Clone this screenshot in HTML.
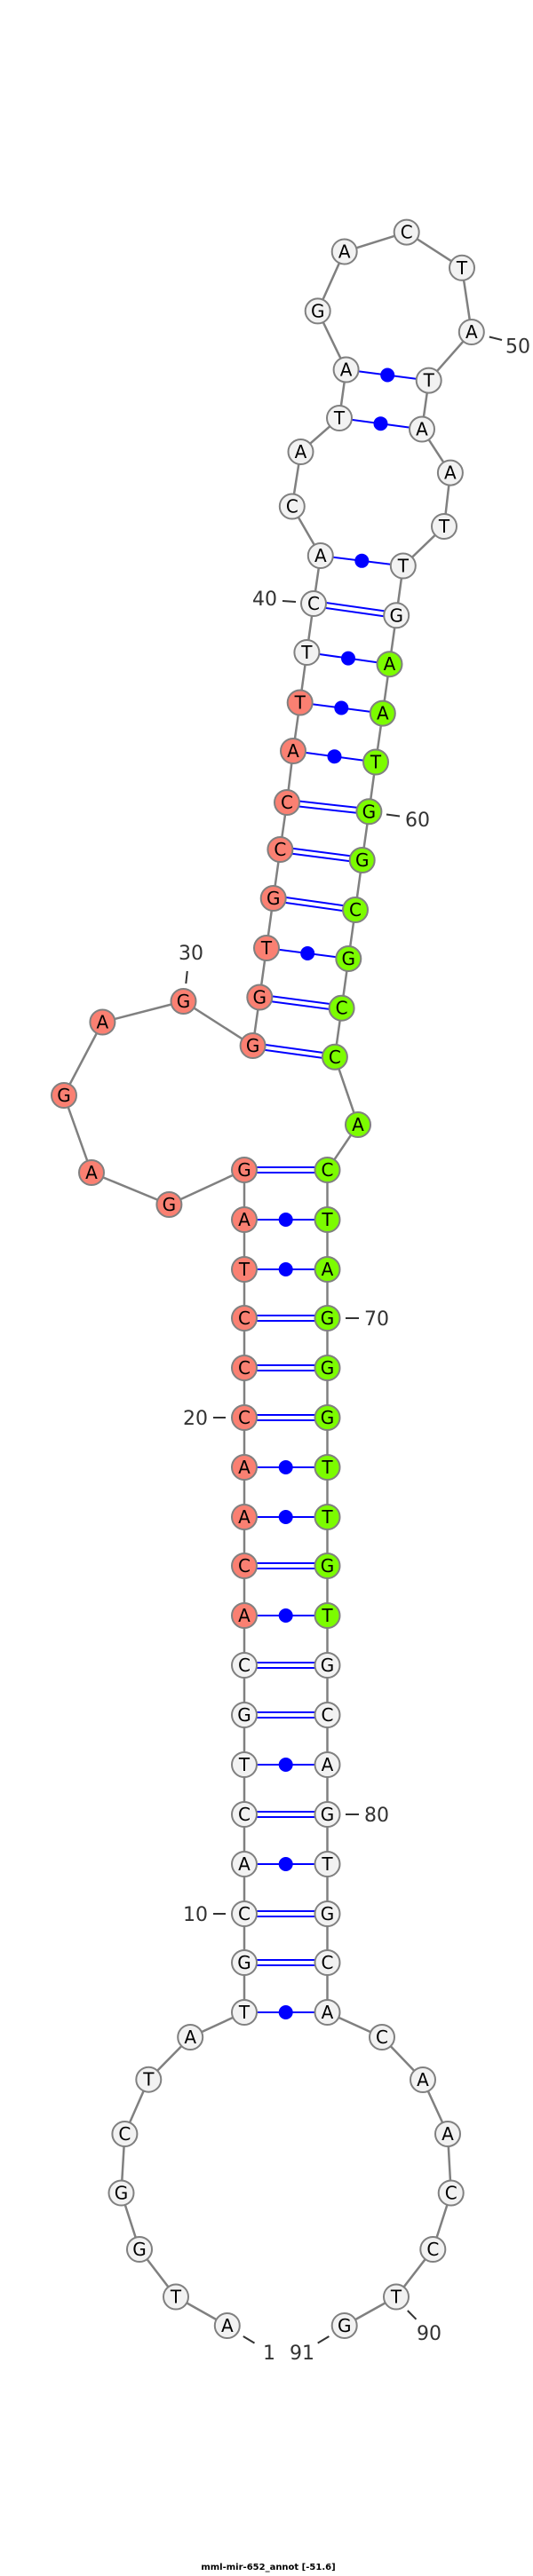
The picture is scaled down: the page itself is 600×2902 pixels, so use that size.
<!DOCTYPE html>
<html><head><meta charset="utf-8"><style>
html,body{margin:0;padding:0;background:#fff;}
svg{display:block;}
.n text{font-family:"DejaVu Sans","Liberation Sans",sans-serif;font-size:20px;text-anchor:middle;fill:#000;}
.lb{font-family:"DejaVu Sans","Liberation Sans",sans-serif;font-size:22px;fill:#333;text-anchor:middle;}
</style></head><body>
<svg width="600" height="2902" viewBox="0 0 600 2902" xmlns="http://www.w3.org/2000/svg">
<polyline fill="none" stroke="#808080" stroke-width="2.5" points="255.8,2620 198,2587.5 157,2534 136.5,2470.5 140.4,2404 167.3,2342.7 214.2,2295 275,2267 275,1318 190.4,1357 103,1321 72,1234 115.4,1151.5 206.5,1128 284.6,1178 292.3,1123.5 300,1068 307.7,1012 315.4,957 323,904 330,846 337.7,791.5 345.4,735 353,680 360.8,626 328.8,570.5 338.5,509 382,471 389.6,416.5 357.7,350.4 387.7,283.5 457.7,261.6 520,301.8 530.8,374 482.7,428.6 475,483.5 506.9,532.6 500,593 453.8,637.5 446.2,693.3 438.5,748.2 430.8,803.6 423,858.5 415.4,914.3 407.7,969 400,1025 392.3,1080 384.6,1135.7 376.9,1190.8 403,1267 368.5,1318 368.5,2267 430,2295 476,2343 504,2404 507.7,2470.5 487.3,2534 446,2587.5 387.7,2620"/>
<g stroke="#0000ff" stroke-width="2" fill="none">
<!-- double lines -->
<path d="M284.6,1175 L376.9,1187.8 M284.6,1181 L376.9,1193.8"/>
<path d="M292.3,1120.5 L384.6,1132.7 M292.3,1126.5 L384.6,1138.7"/>
<path d="M307.7,1009 L400,1022 M307.7,1015 L400,1028"/>
<path d="M315.4,954 L407.7,966 M315.4,960 L407.7,972"/>
<path d="M323,901 L415.4,911.3 M323,907 L415.4,917.3"/>
<path d="M353,677 L446.2,690.3 M353,683 L446.2,696.3"/>
<path d="M300,1068 L392.3,1080 M330,846 L423,858.5 M337.7,791.5 L430.8,803.6 M345.4,735 L438.5,748.2 M360.8,626 L453.8,637.5 M382,471 L475,483.5 M389.6,416.5 L482.7,428.6"/>
<path d="M275,2267H368.5 M275,2100H368.5 M275,1988H368.5 M275,1820H368.5 M275,1709H368.5 M275,1653H368.5 M275,1430H368.5 M275,1374H368.5"/>
<path d="M275,2208H368.5 M275,2214H368.5 M275,2153H368.5 M275,2159H368.5 M275,2041H368.5 M275,2047H368.5 M275,1929H368.5 M275,1935H368.5 M275,1873H368.5 M275,1879H368.5 M275,1761H368.5 M275,1767H368.5 M275,1594H368.5 M275,1600H368.5 M275,1538H368.5 M275,1544H368.5 M275,1482H368.5 M275,1488H368.5 M275,1315H368.5 M275,1321H368.5"/>
</g>
<g fill="#0000ff">
<circle cx="346.2" cy="1074" r="8"/><circle cx="376.5" cy="852.2" r="8"/><circle cx="384.3" cy="797.5" r="8"/><circle cx="392" cy="741.6" r="8"/><circle cx="407.3" cy="631.8" r="8"/><circle cx="428.5" cy="477.2" r="8"/><circle cx="436.2" cy="422.5" r="8"/>
<circle cx="321.7" cy="2267" r="8"/><circle cx="321.7" cy="2100" r="8"/><circle cx="321.7" cy="1988" r="8"/><circle cx="321.7" cy="1820" r="8"/><circle cx="321.7" cy="1709" r="8"/><circle cx="321.7" cy="1653" r="8"/><circle cx="321.7" cy="1430" r="8"/><circle cx="321.7" cy="1374" r="8"/>
</g>
<g class="n" stroke="#808080" stroke-width="2">
<g fill="#f2f2f2">
<circle cx="255.8" cy="2620" r="14"/><circle cx="198" cy="2587.5" r="14"/><circle cx="157" cy="2534" r="14"/><circle cx="136.5" cy="2470.5" r="14"/><circle cx="140.4" cy="2404" r="14"/><circle cx="167.3" cy="2342.7" r="14"/><circle cx="214.2" cy="2295" r="14"/>
<circle cx="275" cy="2267" r="14"/><circle cx="275" cy="2211" r="14"/><circle cx="275" cy="2156" r="14"/><circle cx="275" cy="2100" r="14"/><circle cx="275" cy="2044" r="14"/><circle cx="275" cy="1988" r="14"/><circle cx="275" cy="1932" r="14"/><circle cx="275" cy="1876" r="14"/>
<circle cx="345.4" cy="735" r="14"/><circle cx="353" cy="680" r="14"/><circle cx="360.8" cy="626" r="14"/><circle cx="328.8" cy="570.5" r="14"/><circle cx="338.5" cy="509" r="14"/><circle cx="382" cy="471" r="14"/><circle cx="389.6" cy="416.5" r="14"/><circle cx="357.7" cy="350.4" r="14"/><circle cx="387.7" cy="283.5" r="14"/><circle cx="457.7" cy="261.6" r="14"/><circle cx="520" cy="301.8" r="14"/><circle cx="530.8" cy="374" r="14"/><circle cx="482.7" cy="428.6" r="14"/><circle cx="475" cy="483.5" r="14"/><circle cx="506.9" cy="532.6" r="14"/><circle cx="500" cy="593" r="14"/><circle cx="453.8" cy="637.5" r="14"/><circle cx="446.2" cy="693.3" r="14"/>
<circle cx="368.5" cy="1876" r="14"/><circle cx="368.5" cy="1932" r="14"/><circle cx="368.5" cy="1988" r="14"/><circle cx="368.5" cy="2044" r="14"/><circle cx="368.5" cy="2100" r="14"/><circle cx="368.5" cy="2156" r="14"/><circle cx="368.5" cy="2211" r="14"/><circle cx="368.5" cy="2267" r="14"/>
<circle cx="430" cy="2295" r="14"/><circle cx="476" cy="2343" r="14"/><circle cx="504" cy="2404" r="14"/><circle cx="507.7" cy="2470.5" r="14"/><circle cx="487.3" cy="2534" r="14"/><circle cx="446" cy="2587.5" r="14"/><circle cx="387.7" cy="2620" r="14"/>
</g>
<g fill="#fa8072">
<circle cx="275" cy="1820" r="14"/><circle cx="275" cy="1764" r="14"/><circle cx="275" cy="1709" r="14"/><circle cx="275" cy="1653" r="14"/><circle cx="275" cy="1597" r="14"/><circle cx="275" cy="1541" r="14"/><circle cx="275" cy="1485" r="14"/><circle cx="275" cy="1430" r="14"/><circle cx="275" cy="1374" r="14"/><circle cx="275" cy="1318" r="14"/>
<circle cx="190.4" cy="1357" r="14"/><circle cx="103" cy="1321" r="14"/><circle cx="72" cy="1234" r="14"/><circle cx="115.4" cy="1151.5" r="14"/><circle cx="206.5" cy="1128" r="14"/>
<circle cx="284.6" cy="1178" r="14"/><circle cx="292.3" cy="1123.5" r="14"/><circle cx="300" cy="1068" r="14"/><circle cx="307.7" cy="1012" r="14"/><circle cx="315.4" cy="957" r="14"/><circle cx="323" cy="904" r="14"/><circle cx="330" cy="846" r="14"/><circle cx="337.7" cy="791.5" r="14"/>
</g>
<g fill="#7cfc00">
<circle cx="438.5" cy="748.2" r="14"/><circle cx="430.8" cy="803.6" r="14"/><circle cx="423" cy="858.5" r="14"/><circle cx="415.4" cy="914.3" r="14"/><circle cx="407.7" cy="969" r="14"/><circle cx="400" cy="1025" r="14"/><circle cx="392.3" cy="1080" r="14"/><circle cx="384.6" cy="1135.7" r="14"/><circle cx="376.9" cy="1190.8" r="14"/><circle cx="403" cy="1267" r="14"/>
<circle cx="368.5" cy="1318" r="14"/><circle cx="368.5" cy="1374" r="14"/><circle cx="368.5" cy="1430" r="14"/><circle cx="368.5" cy="1485" r="14"/><circle cx="368.5" cy="1541" r="14"/><circle cx="368.5" cy="1597" r="14"/><circle cx="368.5" cy="1653" r="14"/><circle cx="368.5" cy="1709" r="14"/><circle cx="368.5" cy="1764" r="14"/><circle cx="368.5" cy="1820" r="14"/>
</g>
<g stroke="none">
<text x="255.8" y="2627">A</text><text x="198" y="2594.5">T</text><text x="157" y="2541">G</text><text x="136.5" y="2477.5">G</text><text x="140.4" y="2411">C</text><text x="167.3" y="2349.7">T</text><text x="214.2" y="2302">A</text>
<text x="275" y="2274">T</text><text x="275" y="2218">G</text><text x="275" y="2163">C</text><text x="275" y="2107">A</text><text x="275" y="2051">C</text><text x="275" y="1995">T</text><text x="275" y="1939">G</text><text x="275" y="1883">C</text><text x="275" y="1827">A</text><text x="275" y="1771">C</text><text x="275" y="1716">A</text><text x="275" y="1660">A</text><text x="275" y="1604">C</text><text x="275" y="1548">C</text><text x="275" y="1492">C</text><text x="275" y="1437">T</text><text x="275" y="1381">A</text><text x="275" y="1325">G</text>
<text x="190.4" y="1364">G</text><text x="103" y="1328">A</text><text x="72" y="1241">G</text><text x="115.4" y="1158.5">A</text><text x="206.5" y="1135">G</text>
<text x="284.6" y="1185">G</text><text x="292.3" y="1130.5">G</text><text x="300" y="1075">T</text><text x="307.7" y="1019">G</text><text x="315.4" y="964">C</text><text x="323" y="911">C</text><text x="330" y="853">A</text><text x="337.7" y="798.5">T</text><text x="345.4" y="742">T</text><text x="353" y="687">C</text>
<text x="360.8" y="633">A</text><text x="328.8" y="577.5">C</text><text x="338.5" y="516">A</text><text x="382" y="478">T</text><text x="389.6" y="423.5">A</text><text x="357.7" y="357.4">G</text><text x="387.7" y="290.5">A</text><text x="457.7" y="268.6">C</text><text x="520" y="308.8">T</text><text x="530.8" y="381">A</text>
<text x="482.7" y="435.6">T</text><text x="475" y="490.5">A</text><text x="506.9" y="539.6">A</text><text x="500" y="600">T</text><text x="453.8" y="644.5">T</text><text x="446.2" y="700.3">G</text><text x="438.5" y="755.2">A</text><text x="430.8" y="810.6">A</text><text x="423" y="865.5">T</text><text x="415.4" y="921.3">G</text><text x="407.7" y="976">G</text><text x="400" y="1032">C</text><text x="392.3" y="1087">G</text><text x="384.6" y="1142.7">C</text><text x="376.9" y="1197.8">C</text><text x="403" y="1274">A</text>
<text x="368.5" y="1325">C</text><text x="368.5" y="1381">T</text><text x="368.5" y="1437">A</text><text x="368.5" y="1492">G</text><text x="368.5" y="1548">G</text><text x="368.5" y="1604">G</text><text x="368.5" y="1660">T</text><text x="368.5" y="1716">T</text><text x="368.5" y="1771">G</text><text x="368.5" y="1827">T</text><text x="368.5" y="1883">G</text><text x="368.5" y="1939">C</text><text x="368.5" y="1995">A</text><text x="368.5" y="2051">G</text><text x="368.5" y="2107">T</text><text x="368.5" y="2163">G</text><text x="368.5" y="2218">C</text><text x="368.5" y="2274">A</text>
<text x="430" y="2302">C</text><text x="476" y="2350">A</text><text x="504" y="2411">A</text><text x="507.7" y="2477.5">C</text><text x="487.3" y="2541">C</text><text x="446" y="2594.5">T</text><text x="387.7" y="2627">G</text>
</g>
</g>
<g stroke="#333" stroke-width="2">
<line x1="550.8" y1="379.5" x2="565" y2="383"/>
<line x1="318" y1="677" x2="333" y2="678"/>
<line x1="435" y1="917.5" x2="450" y2="919.5"/>
<line x1="210.8" y1="1094" x2="209.3" y2="1108"/>
<line x1="389" y1="1485" x2="404" y2="1485"/>
<line x1="240" y1="1597" x2="254" y2="1597"/>
<line x1="389" y1="2044" x2="404" y2="2044"/>
<line x1="240" y1="2156" x2="254" y2="2156"/>
<line x1="273.8" y1="2632" x2="286.5" y2="2639.6"/>
<line x1="357.7" y1="2639.6" x2="370.4" y2="2632"/>
<line x1="458.8" y1="2603" x2="468.5" y2="2612.8"/>
</g>
<g class="lb">
<text x="583" y="397.5">50</text>
<text x="298" y="682">40</text>
<text x="470" y="931">60</text>
<text x="215" y="1081">30</text>
<text x="424" y="1493">70</text>
<text x="220" y="1605">20</text>
<text x="424" y="2052">80</text>
<text x="220" y="2164">10</text>
<text x="303" y="2658">1</text>
<text x="340" y="2658">91</text>
<text x="483" y="2636">90</text>
</g>
<text x="302" y="2895" font-family="'DejaVu Sans','Liberation Sans',sans-serif" font-size="10" font-weight="bold" text-anchor="middle" fill="#000">mml-mir-652_annot [-51.6]</text>
</svg>
</body></html>
